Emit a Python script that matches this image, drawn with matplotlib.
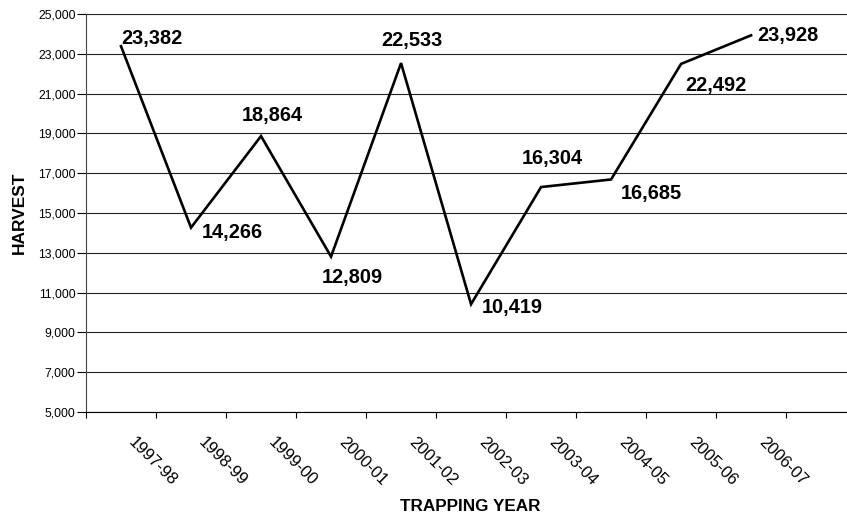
import matplotlib
matplotlib.use("Agg")
import matplotlib.pyplot as plt
from matplotlib.ticker import FixedLocator, FuncFormatter
from matplotlib.transforms import ScaledTranslation

plt.rcParams['font.family'] = ['Liberation Sans', 'DejaVu Sans']

# harvest per trapping year
years = ['1997-98', '1998-99', '1999-00', '2000-01', '2001-02',
         '2002-03', '2003-04', '2004-05', '2005-06', '2006-07']
harvest = [23382, 14266, 18864, 12809, 22533, 10419, 16304, 16685, 22492, 23928]

# where each value label sits relative to its point (pixels: right, down)
label_shift = [(31, -2), (41, 10), (11, -15), (21, 26), (11, -17),
               (41, 9), (11, -23), (40, 20), (35, 27), (37, 6)]

px = 0.72  # points per pixel at 100 dpi

fig = plt.figure(figsize=(8.47, 5.19), dpi=100)
ax = fig.add_axes([86 / 847, 1 - 412 / 519, 761 / 847, 398 / 519])

x = list(range(len(years)))
ax.plot(x, harvest, color='black', lw=1.9, solid_joinstyle='miter', zorder=3)

for i, v in enumerate(harvest):
    dx, dy = label_shift[i]
    ax.annotate(f'{v:,}', xy=(i, v), xytext=(dx * px, -dy * px),
                textcoords='offset points', ha='center', va='baseline',
                fontsize=14.4, fontweight='bold', color='black', zorder=4)

ax.set_xlim(-0.5, 10.37)
ax.set_ylim(5000, 25000)

yticks = list(range(5000, 25001, 2000))
ax.set_yticks(yticks)
ax.yaxis.set_major_formatter(FuncFormatter(lambda v, p: f'{int(v):,}'))
ax.tick_params(axis='y', direction='out', length=6.5, width=0.8, pad=1,
               labelsize=8.8, colors='black')
ax.yaxis.grid(True, color='#222222', lw=0.8)
ax.set_axisbelow(True)

# category boundaries carry the tick marks, centres carry the names
ax.xaxis.set_major_locator(FixedLocator([i - 0.5 for i in range(len(years) + 1)]))
ax.xaxis.set_major_formatter(FuncFormatter(lambda v, p: ''))
ax.xaxis.set_minor_locator(FixedLocator(x))
ax.set_xticklabels(years, minor=True)
ax.tick_params(axis='x', which='major', direction='out', length=4.5, width=0.8)
ax.tick_params(axis='x', which='minor', length=0, pad=16, labelsize=12)
shift = ScaledTranslation(5 / 100, 0, fig.dpi_scale_trans)
for lbl in ax.get_xticklabels(minor=True):
    lbl.set_rotation(-45)
    lbl.set_ha('left')
    lbl.set_va('top')
    lbl.set_transform(lbl.get_transform() + shift)

for side in ['top', 'right']:
    ax.spines[side].set_visible(False)
ax.spines['left'].set_color('#444444')
ax.spines['bottom'].set_color('black')
ax.spines['left'].set_linewidth(0.8)
ax.spines['bottom'].set_linewidth(0.8)

ax.set_ylabel('HARVEST', fontsize=12.5, fontweight='bold')
ax.yaxis.set_label_coords(-0.078, 0.5)
ax.set_xlabel('TRAPPING YEAR', fontsize=12.3, fontweight='bold')
ax.xaxis.set_label_coords(0.5046, -0.2186)

fig.savefig('out.png', dpi=100)
